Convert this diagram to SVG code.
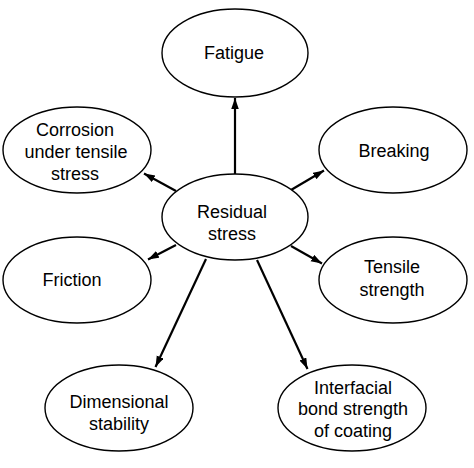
<svg xmlns="http://www.w3.org/2000/svg" width="474" height="468" viewBox="0 0 474 468">
<style>
.n ellipse{fill:#fff;stroke:#000;stroke-width:1.4}
.n text{font-family:"Liberation Sans",Arial,sans-serif;font-size:18px;fill:#000;text-anchor:middle}
.c line{stroke:#000;stroke-width:2.2;marker-end:url(#ah)}
</style>
<defs>
<marker id="ah" markerUnits="userSpaceOnUse" markerWidth="12" markerHeight="9" refX="11" refY="3.75" orient="auto">
<path d="M0,0 L11,3.75 L0,7.5 Z" fill="#000"/>
</marker>
</defs>
<rect width="474" height="468" fill="#fff"/>
<g class="c" id="connectors">
<line x1="235" y1="174" x2="235" y2="98"/>
<line x1="176" y1="191" x2="144" y2="173.5"/>
<line x1="291" y1="190" x2="324" y2="170.5"/>
<line x1="176" y1="245" x2="148" y2="259.5"/>
<line x1="291" y1="246" x2="322" y2="263.5"/>
<line x1="206" y1="259" x2="155.5" y2="367"/>
<line x1="257" y1="260" x2="307.5" y2="369"/>
</g>
<g class="n" id="fatigue"><ellipse cx="235" cy="53" rx="73" ry="44"/><text x="234" y="59">Fatigue</text></g>
<g class="n" id="corrosion"><ellipse cx="77" cy="150" rx="74" ry="43"/><text x="75" y="136">Corrosion</text><text x="76" y="158">under tensile</text><text x="75" y="180">stress</text></g>
<g class="n" id="breaking"><ellipse cx="393" cy="150" rx="74" ry="43"/><text x="394" y="157">Breaking</text></g>
<g class="n" id="residual"><ellipse cx="235" cy="217" rx="73" ry="43"/><text x="232" y="218">Residual</text><text x="232" y="240">stress</text></g>
<g class="n" id="friction"><ellipse cx="77" cy="280" rx="74" ry="43"/><text x="72" y="286">Friction</text></g>
<g class="n" id="tensile"><ellipse cx="393" cy="280" rx="74" ry="43"/><text x="392" y="273">Tensile</text><text x="392" y="296">strength</text></g>
<g class="n" id="dimensional"><ellipse cx="119" cy="408" rx="74" ry="43"/><text x="119" y="408">Dimensional</text><text x="119" y="430">stability</text></g>
<g class="n" id="interfacial"><ellipse cx="352" cy="408" rx="74" ry="43"/><text x="353" y="394">Interfacial</text><text x="353" y="415">bond strength</text><text x="353" y="437">of coating</text></g>
</svg>
